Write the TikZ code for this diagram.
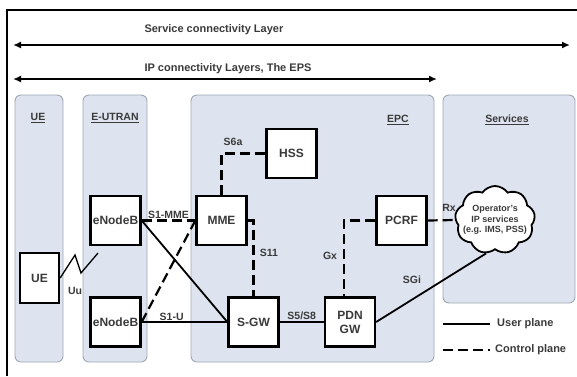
\documentclass[tikz,border=0pt]{standalone}
\usepackage{fontspec}
\setmainfont{Liberation Sans}
\usetikzlibrary{shapes.symbols, arrows.meta, positioning}
\definecolor{panelfill}{HTML}{DDE4EF}
\definecolor{panelline}{HTML}{9EA6B2}
\definecolor{labelgray}{HTML}{3A3A3A}

\begin{document}
\begin{tikzpicture}[
    x=1pt, y=-1pt,
    font=\bfseries\fontsize{11}{12}\selectfont, text=labelgray,
    panel/.style={draw=panelline, fill=panelfill, rounded corners=6pt, line width=0.9pt},
    entity/.style={rectangle, draw=black, fill=white, line width=2.3pt, minimum width=50pt, minimum height=49pt, align=center, inner sep=1pt, font=\bfseries\fontsize{12}{14}\selectfont},
    header/.style={font=\bfseries\fontsize{10.5}{12}\selectfont},
    lbl/.style={font=\bfseries\fontsize{10.5}{12}\selectfont, inner sep=1pt},
    userline/.style={line width=1.8pt},
    ctrlline/.style={line width=2.2pt, dash pattern=on 10pt off 5pt},
    layer/.style={<->, >={Latex[length=8pt,width=7pt]}, line width=2.4pt}
]
\useasboundingbox (0,0) rectangle (577,376);

% Frame
\draw[line width=1.4pt] (7,376) -- (7,10) -- (577,10);

% Layers
\coordinate (svcL) at (13,45);
\coordinate (svcR) at (570,45);
\coordinate (ipL) at (13,79);
\coordinate (ipR) at (437,79);
\draw[layer] (svcL) -- (svcR);
\draw[layer] (ipL) -- (ipR);
\node[anchor=west] (svc) at (141,30) {Service connectivity Layer};
\node[anchor=west] (ip) at (141,69) {IP connectivity Layers, The EPS};

% Panels
\draw[panel] (15,95) rectangle (63,362);
\draw[panel] (83,95) rectangle (147,362);
\draw[panel] (191,95) rectangle (434,362);
\draw[panel] (443,95) rectangle (575,303);
\node[header] (h_ue) at (38,118) {\underline{UE}};
\node[header] (h_eutran) at (115,118) {\underline{E-UTRAN}};
\node[header] (h_epc) at (398,120) {\underline{EPC}};
\node[header] (h_serv) at (507,120) {\underline{Services}};

% Nodes
\node[entity, minimum width=39pt, minimum height=50pt] (ue) at (39.5,278) {UE};
\node[entity] (enb1) at (115.5,220.5) {eNodeB};
\node[entity] (enb2) at (115.5,322) {eNodeB};
\node[entity] (mme) at (221.5,220.5) {MME};
\node[entity] (hss) at (291.5,153.5) {HSS};
\node[entity] (sgw) at (253.5,322) {S-GW};
\node[entity] (pdn) at (350,322) {PDN\\GW};
\node[entity] (pcrf) at (401.5,220.5) {PCRF};
\node[cloud, draw=black, fill=white, line width=1.8pt, cloud puffs=9, cloud puff arc=110,
      minimum width=80pt, minimum height=68pt, inner sep=0pt] (cloud) at (495,220) {};
\node[align=center, font=\bfseries\fontsize{9}{10.5}\selectfont] (ops) at (cloud.center)
      {Operator's\\IP services\\(e.g. IMS, PSS)};

% Uu
\coordinate (uuA) at (75,255);
\coordinate (uuB) at (81,273);
\coordinate (uuC) at (98,253);
\draw[line width=1.3pt] (ue.east) -- (uuA) -- (uuB) -- (uuC);
\node[lbl] (uu) at (75,291) {Uu};

% Arrows
\draw[ctrlline] (enb1) -- node[lbl, above] {S1-MME} (mme);
\draw[userline] (enb1.east) -- (sgw.west);
\draw[ctrlline] (enb2.east) -- (mme.west);
\draw[userline] (enb2) -- node[lbl, above, pos=0.35] {S1-U} (sgw);
\draw[ctrlline] (mme.north) |- (hss.west);
\node[lbl] (s6a) at (233,142) {S6a};
\draw[ctrlline] (mme.east) -| (sgw.north);
\node[lbl] (s11) at (269,253) {S11};
\draw[userline] (sgw) -- node[lbl, above] {S5/S8} (pdn);
\draw[ctrlline] (pcrf.west) -| ([xshift=-6pt]pdn.north);
\node[lbl] (gx) at (330,256) {Gx};
\draw[ctrlline] (pcrf.east) -- (cloud.west);
\node[lbl] (rx) at (449,208) {Rx};
\draw[userline] (pdn.east) -- (cloud.255);
\node[lbl] (sgi) at (412,280) {SGi};

% Legend
\coordinate (userA) at (443,324);
\coordinate (userB) at (490,324);
\coordinate (ctrlA) at (443,350);
\coordinate (ctrlB) at (490,350);
\draw[userline] (userA) -- (userB);
\draw[ctrlline] (ctrlA) -- (ctrlB);
\node[anchor=west, inner sep=0pt] (userlbl) at (497,324) {User plane};
\node[anchor=west, inner sep=0pt] (ctrllbl) at (495,350) {Control plane};

\end{tikzpicture}
\end{document}
